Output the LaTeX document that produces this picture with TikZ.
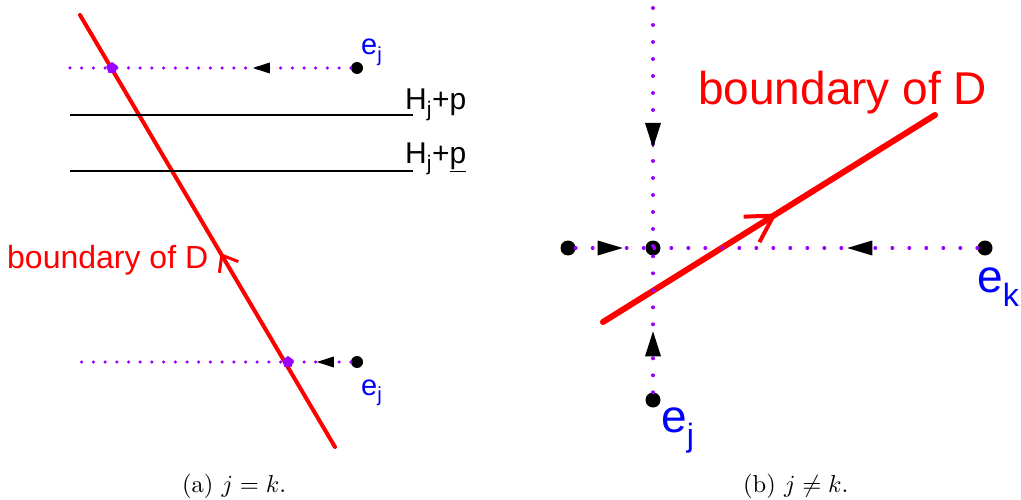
\documentclass[tikz,border=0pt]{standalone}
\usepackage{fontspec}
\setsansfont{Liberation Sans}
\usetikzlibrary{arrows.meta,decorations.markings,shapes.geometric}
\definecolor{vio}{RGB}{153,0,255}
\definecolor{ered}{RGB}{255,0,0}
\definecolor{eblue}{RGB}{0,0,255}
\begin{document}
\begin{tikzpicture}[x=1pt,y=-1pt,
  dotsL/.style={vio, line width=3.5pt, line cap=round, dash pattern=on 0pt off 11.7pt},
  dotsR/.style={vio, line width=4pt, line cap=round, dash pattern=on 0pt off 17pt},
  midtri/.style n args={3}{postaction={decorate,decoration={markings,
     mark=at position #1 with {\fill[black] (0,0) -- (-#2,#3/2) -- (-#2,-#3/2) -- cycle;}}}},
  redline/.style={ered, line cap=round},
  chev/.style n args={4}{postaction={decorate,decoration={markings,
     mark=at position #1 with {\arrow[ered]{Straight Barb[length=#2pt,width=#3pt,line width=#4pt]}}}}},
  bdotS/.style={circle, fill=black, inner sep=0pt, minimum size=12pt},
  bdotB/.style={circle, fill=black, inner sep=0pt, minimum size=15pt},
  pblob/.style={regular polygon, regular polygon sides=5, fill=vio, inner sep=0pt, minimum size=12pt},
  lab/.style={anchor=base west, inner sep=0pt, font=\sffamily},
  hline/.style={black, line width=2pt},
  capt/.style={anchor=base west, inner sep=0pt}
]
\useasboundingbox (0,0) rectangle (1021,500);

% ---------------- (a) ----------------
\coordinate (rA1) at (335,447);
\coordinate (rA2) at (80,15);
\draw[redline, line width=4pt, chev={0.449}{14}{22}{3}] (rA1) -- (rA2);

\coordinate (h1a) at (70,115);
\coordinate (h1b) at (413,115);
\coordinate (h2a) at (70,171);
\coordinate (h2b) at (413,171);
\draw[hline] (h1a) -- (h1b);
\draw[hline] (h2a) -- (h2b);
\node[lab, font=\sffamily\fontsize{30}{32}\selectfont] (hp1) at (405,110) {H\textsubscript{j}+p};
\node[lab, font=\sffamily\fontsize{30}{32}\selectfont] (hp2) at (405,164) {H\textsubscript{j}+\underline{p}};

\node[bdotS] (ejA1) at (357,68) {};
\coordinate (endA1) at (70,68);
\draw[dotsL, midtri={98pt}{17}{11}] (ejA1) -- (endA1);
\node[pblob] (pA1) at (112,68) {};

\node[bdotS] (ejA2) at (357,362) {};
\coordinate (endA2) at (75,362);
\draw[dotsL, midtri={34pt}{17}{11}] (ejA2) -- (endA2);
\node[pblob] (pA2) at (288,362) {};

\node[lab, eblue, font=\sffamily\fontsize{29}{31}\selectfont] (tA1) at (361,55) {e\textsubscript{j}};
\node[lab, eblue, font=\sffamily\fontsize{29}{31}\selectfont] (tA2) at (361,395) {e\textsubscript{j}};
\node[lab, ered, font=\sffamily\fontsize{32}{34}\selectfont] (bA) at (7,269) {boundary of D};

% ---------------- (b) ----------------
\node[bdotB] (c) at (653,248) {};
\node[bdotB] (l) at (568,248) {};
\node[bdotB] (ek) at (985,248) {};
\node[bdotB] (ej) at (653,400) {};
\coordinate (top) at (653,8);
\coordinate (rB1) at (603,322);
\coordinate (rB2) at (935,115);

\draw[redline, line width=6pt, chev={0.524}{26}{30}{4}] (rB1) -- (rB2);

\draw[dotsR, midtri={47pt}{25}{15}] (l) -- (c.center);
\draw[dotsR, midtri={130pt}{25}{15}] (ek) -- (c.center);
\draw[dotsR, midtri={140pt}{25}{16}] (top) -- (c.center);
\draw[dotsR, midtri={61pt}{25}{16}] (ej) -- (c.center);

\node[lab, ered, font=\sffamily\fontsize{46}{48}\selectfont] (bB) at (698,105) {boundary of D};
\node[lab, eblue, font=\sffamily\fontsize{46}{48}\selectfont] (tk) at (977,292) {e\textsubscript{k}};
\node[lab, eblue, font=\sffamily\fontsize{46}{48}\selectfont] (tj) at (661,432) {e\textsubscript{j}};

% captions
\node[capt] (ca) at (182,492) {\scalebox{2.45}{(a) $j=k$.}};
\node[capt] (cb) at (743,492) {\scalebox{2.45}{(b) $j\neq k$.}};
\end{tikzpicture}
\end{document}
